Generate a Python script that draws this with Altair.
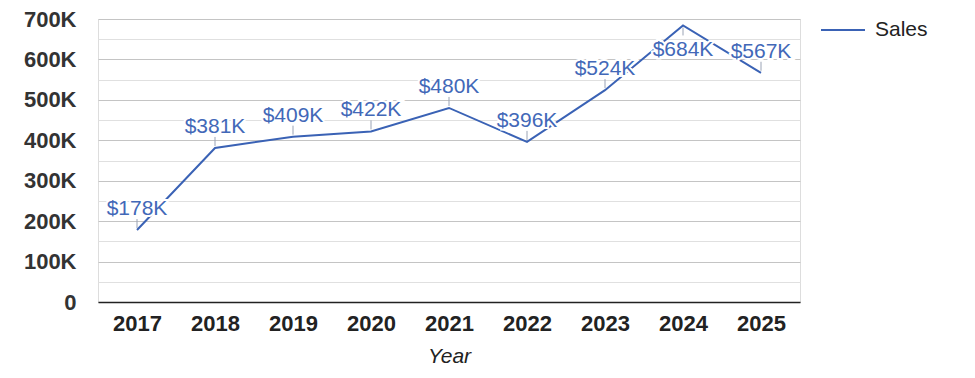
import altair as alt
import pandas as pd

years = ["2017", "2018", "2019", "2020", "2021", "2022", "2023", "2024", "2025"]
sales = [178000, 381000, 409000, 422000, 480000, 396000, 524000, 684000, 567000]
series_name = "Sales"

df = pd.DataFrame({"Year": years, "Sales": sales})

FONT = "Liberation Sans"
LINE_COLOR = "#3a62b5"
LABEL_COLOR = "#4268b8"
Y_MAX = 700000
GRID_STEP = 50000

x_scale = alt.Scale(type="point", padding=0.5)
x_enc = alt.X(
    "Year:N",
    sort=years,
    scale=x_scale,
    axis=alt.Axis(
        title="Year",
        titleFont=FONT,
        titleFontSize=21,
        titleFontStyle="italic",
        titleFontWeight="normal",
        titleColor="#222222",
        titlePadding=11,
        labelFont=FONT,
        labelFontSize=22,
        labelFontWeight="bold",
        labelColor="#222222",
        labelPadding=11,
        labelAngle=0,
        ticks=False,
        domainColor="#222222",
        domainWidth=1.5,
        grid=False,
    ),
)

y_scale = alt.Scale(domain=[0, Y_MAX], nice=False)
y_enc = alt.Y(
    "Sales:Q",
    scale=y_scale,
    axis=alt.Axis(
        title=None,
        values=list(range(0, Y_MAX + 1, GRID_STEP)),
        tickCount=15,
        labelExpr="datum.value % 100000 === 0 ? (datum.value === 0 ? '0' : (datum.value / 1000) + 'K') : ''",
        labelOverlap=False,
        labelFont=FONT,
        labelFontSize=22,
        labelFontWeight="bold",
        labelColor="#333333",
        labelPadding=22,
        ticks=False,
        domain=False,
        grid=True,
        gridColor={"expr": "datum.value % 100000 === 0 ? '#c4c4c4' : '#e0e0e0'"},
        gridWidth=1,
    ),
)

base = alt.Chart(df).transform_calculate(
    series=f"'{series_name}'",
    label="'$' + format(datum.Sales / 1000, 'd') + 'K'",
)

line = base.mark_line(strokeWidth=2).encode(
    x=x_enc,
    y=y_enc,
    color=alt.Color(
        "series:N",
        scale=alt.Scale(range=[LINE_COLOR]),
        legend=alt.Legend(
            title=None,
            orient="none",
            legendX=722,
            legendY=-12,
            symbolType="stroke",
            symbolSize=1936,
            symbolStrokeWidth=2,
            labelFont=FONT,
            labelFontSize=21,
            labelColor="#222222",
            labelOffset=9,
        ),
    ),
)

above = f"datum.Sales < {Y_MAX} * 0.93"
below = f"datum.Sales >= {Y_MAX} * 0.93"

leader_up = base.transform_filter(above).mark_rule(
    color="#9aa3b5", strokeWidth=1, yOffset=-11, y2Offset=-2
).encode(x=x_enc, y=y_enc, y2="Sales:Q")

leader_down = base.transform_filter(below).mark_rule(
    color="#9aa3b5", strokeWidth=1, yOffset=2, y2Offset=10
).encode(x=x_enc, y=y_enc, y2="Sales:Q")


def text_layer(filt, dy, halo):
    props = dict(font=FONT, fontSize=21, baseline="alphabetic", align="center", dy=dy)
    if halo:
        props.update(stroke="white", strokeWidth=4, fill="white")
    else:
        props.update(color=LABEL_COLOR)
    return base.transform_filter(filt).mark_text(**props).encode(x=x_enc, y=y_enc, text="label:N")


layers = [
    line,
    leader_up,
    leader_down,
    text_layer(above, -15, True),
    text_layer(below, 31, True),
    text_layer(above, -15, False),
    text_layer(below, 31, False),
]

chart = (
    alt.layer(*layers)
    .properties(
        width=702,
        height=283,
        autosize=alt.AutoSizeParams(type="none"),
        padding={"left": 90, "top": 11, "right": 167, "bottom": 68},
    )
    .configure_view(stroke=None)
    .configure(background="white")
)

chart.save("out.html", embed_options={"renderer": "svg", "actions": False})
